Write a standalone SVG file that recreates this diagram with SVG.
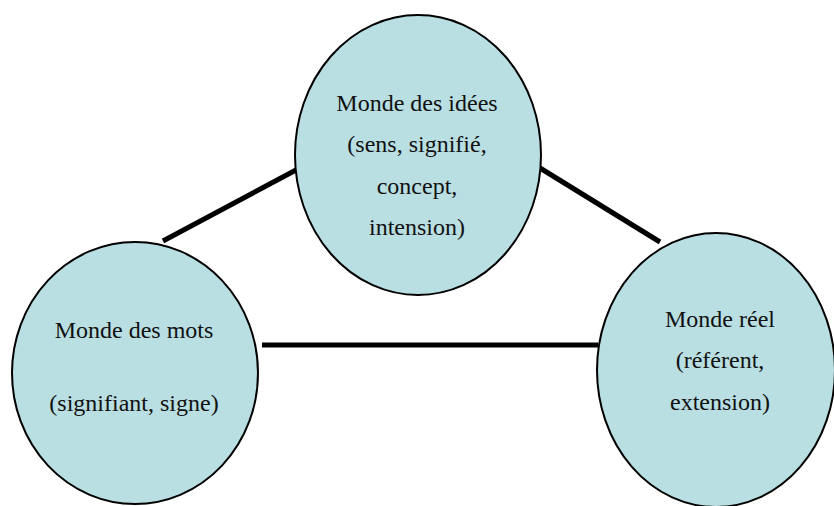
<svg xmlns="http://www.w3.org/2000/svg" width="834" height="506" viewBox="0 0 834 506">
<style>
.node ellipse{fill:#b9dfe3;stroke:#000;stroke-width:2}
.node text{font-family:'Liberation Serif','DejaVu Serif','Times New Roman',serif;font-size:24px;fill:#111;text-anchor:middle}
.conn line{stroke:#000;stroke-width:5;stroke-linecap:butt}
</style>
<rect width="834" height="506" fill="#fff"/>
<g id="connectors" class="conn">
<line x1="163" y1="241" x2="296" y2="170"/>
<line x1="540" y1="168" x2="660" y2="242"/>
<line x1="262" y1="345" x2="598" y2="345"/>
</g>
<g id="idees" class="node">
<ellipse cx="418" cy="155" rx="123" ry="140"/>
<text x="417" y="111">Monde des idées</text>
<text x="417" y="152">(sens, signifié,</text>
<text x="417" y="194">concept,</text>
<text x="417" y="235">intension)</text>
</g>
<g id="mots" class="node">
<ellipse cx="135" cy="373" rx="123" ry="131"/>
<text x="134" y="338">Monde des mots</text>
<text x="134" y="411">(signifiant, signe)</text>
</g>
<g id="reel" class="node">
<ellipse cx="716" cy="370" rx="119" ry="137"/>
<text x="720" y="327">Monde réel</text>
<text x="720" y="368">(référent,</text>
<text x="720" y="410">extension)</text>
</g>
</svg>
